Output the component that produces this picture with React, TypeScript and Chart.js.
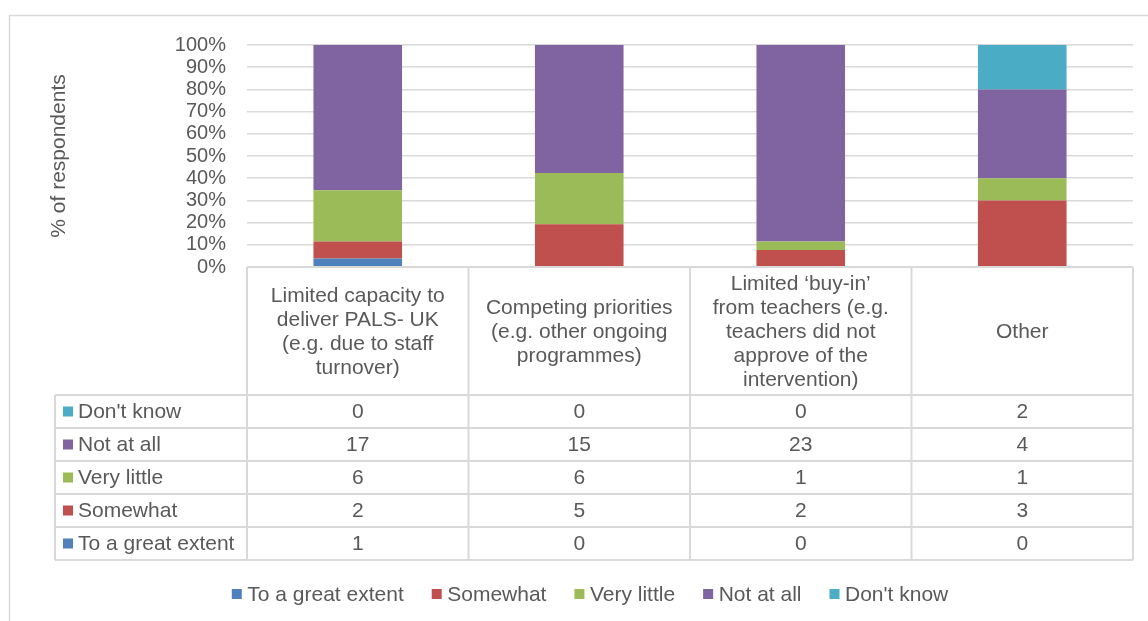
import { useEffect, useRef } from "react";
import { Chart, registerables } from "chart.js";

Chart.register(...registerables);

// ---- Data ----
const categoryLabels: string[][] = [
  ["Limited capacity to", "deliver PALS- UK", "(e.g. due to staff", "turnover)"],
  ["Competing priorities", "(e.g. other ongoing", "programmes)"],
  ["Limited \u2018buy-in\u2019", "from teachers (e.g.", "teachers did not", "approve of the", "intervention)"],
  ["Other"],
];
const seriesNames = ["To a great extent", "Somewhat", "Very little", "Not at all", "Don't know"];
const toAGreatExtent = [1, 0, 0, 0];
const somewhat = [2, 5, 2, 3];
const veryLittle = [6, 6, 1, 1];
const notAtAll = [17, 15, 23, 4];
const dontKnow = [0, 0, 0, 2];
const seriesColors = ["#4F81BD", "#C0504D", "#9BBB59", "#8064A2", "#4BACC6"];
const yAxisTitle = "% of respondents";

const counts = [toAGreatExtent, somewhat, veryLittle, notAtAll, dontKnow];
const totals = categoryLabels.map((_, i) => counts.reduce((s, arr) => s + arr[i], 0));

const FONT = "'Liberation Sans', Arial, sans-serif";
const TEXT = "#595959";
const LINE = "#D9D9D9";

const HEADER_H = 128;
const ROW_H = 33;
const LABEL_LEFT = 55;

const tablePlugin = {
  id: "dataTable",
  afterDraw(chart: any) {
    const ctx = chart.ctx as CanvasRenderingContext2D;
    const area = chart.chartArea;
    const xs = chart.scales.x;
    const n = categoryLabels.length;
    const colW = (area.right - area.left) / n;
    const top = area.bottom;
    const rowsTop = top + HEADER_H;
    const nRows = seriesNames.length;
    const bottom = rowsTop + nRows * ROW_H;

    ctx.save();
    // frame
    ctx.strokeStyle = LINE;
    ctx.lineWidth = 1.5;
    ctx.beginPath();
    ctx.moveTo(9.5, chart.height);
    ctx.lineTo(9.5, 15.5);
    ctx.lineTo(chart.width, 15.5);
    ctx.stroke();

    // table grid
    ctx.lineWidth = 2;
    ctx.beginPath();
    ctx.moveTo(area.left, top);
    ctx.lineTo(area.right, top);
    for (let r = 0; r <= nRows; r++) {
      const y = rowsTop + r * ROW_H;
      ctx.moveTo(LABEL_LEFT, y);
      ctx.lineTo(area.right, y);
    }
    for (let c = 0; c <= n; c++) {
      const x = area.left + c * colW;
      ctx.moveTo(x, top);
      ctx.lineTo(x, bottom);
    }
    ctx.moveTo(LABEL_LEFT, rowsTop);
    ctx.lineTo(LABEL_LEFT, bottom);
    ctx.stroke();

    // header labels
    ctx.fillStyle = TEXT;
    ctx.font = `21px ${FONT}`;
    ctx.textAlign = "center";
    ctx.textBaseline = "middle";
    const lh = 24;
    categoryLabels.forEach((lines, i) => {
      const cx = xs.getPixelForValue(i);
      const cy = top + HEADER_H / 2 + 1;
      const start = cy - ((lines.length - 1) * lh) / 2;
      lines.forEach((ln, k) => ctx.fillText(ln, cx, start + k * lh));
    });

    // rows (reverse order: Don't know on top)
    for (let r = 0; r < nRows; r++) {
      const si = nRows - 1 - r;
      const cy = rowsTop + r * ROW_H + ROW_H / 2;
      ctx.fillStyle = seriesColors[si];
      ctx.fillRect(63, cy - 5, 10, 10);
      ctx.fillStyle = TEXT;
      ctx.textAlign = "left";
      ctx.fillText(seriesNames[si], 78, cy + 1);
      ctx.textAlign = "center";
      counts[si].forEach((v, i) => {
        ctx.fillText(String(v), xs.getPixelForValue(i), cy + 1);
      });
    }

    // legend
    const box = 10;
    const boxToText = 15.5;
    const gap = 28;
    const widths = seriesNames.map((s) => ctx.measureText(s).width);
    const total = widths.reduce((a, w) => a + boxToText + w, 0) + gap * (widths.length - 1);
    let x = 590 - total / 2;
    const ly = 594;
    seriesNames.forEach((s, i) => {
      ctx.fillStyle = seriesColors[i];
      ctx.fillRect(x, ly - box / 2, box, box);
      ctx.fillStyle = TEXT;
      ctx.textAlign = "left";
      ctx.fillText(s, x + boxToText, ly + 1);
      x += boxToText + widths[i] + gap;
    });
    ctx.restore();
  },
};

export default function App() {
  const ref = useRef<HTMLCanvasElement | null>(null);
  useEffect(() => {
    if (!ref.current) return;
    const chart = new Chart(ref.current, {
      type: "bar",
      data: {
        labels: categoryLabels.map((l) => l.join(" ")),
        datasets: seriesNames.map((name, si) => ({
          label: name,
          data: counts[si].map((v, i) => (v / totals[i]) * 100),
          backgroundColor: seriesColors[si],
          borderWidth: 0,
          barPercentage: 0.4,
          categoryPercentage: 1,
        })),
      },
      options: {
        responsive: false,
        animation: false,
        layout: { padding: { left: 0, right: 15, top: 45, bottom: 61 } },
        plugins: {
          legend: { display: false },
          tooltip: { enabled: false },
          title: { display: false },
        },
        scales: {
          x: {
            stacked: true,
            grid: { display: false },
            border: { display: false },
            ticks: { display: false },
            afterFit: (s: any) => {
              s.height = HEADER_H + ROW_H * seriesNames.length;
            },
          },
          y: {
            stacked: true,
            min: 0,
            max: 100,
            border: { display: false },
            grid: { color: LINE, lineWidth: 1.5, drawTicks: false },
            ticks: {
              stepSize: 10,
              autoSkip: false,
              padding: 21,
              color: TEXT,
              font: { family: FONT, size: 20, lineHeight: 1 },
              callback: (v: any) => `${v}%`,
            },
            title: {
              display: true,
              text: yAxisTitle,
              color: TEXT,
              font: { family: FONT, size: 21 },
              padding: { top: 47, bottom: 0 },
            },
            afterFit: (s: any) => {
              s.width = 247;
            },
          },
        },
      },
      plugins: [tablePlugin],
    });
    return () => chart.destroy();
  }, []);
  return (
    <div style={{ position: "absolute", left: 0, top: 0, width: 1148, height: 621, background: "#fff" }}>
      <canvas ref={ref} width={1148} height={621} />
    </div>
  );
}
